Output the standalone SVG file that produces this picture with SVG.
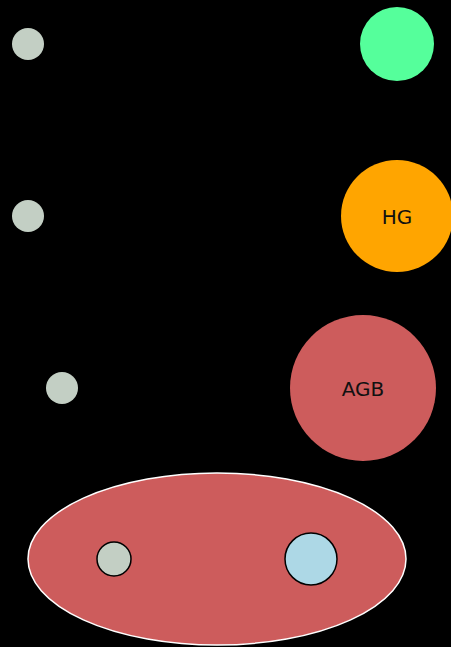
<svg xmlns="http://www.w3.org/2000/svg" width="451" height="647" viewBox="0 0 451 647">
<style>
.small{fill:#c3cfc4;}
.lbl{font-family:"DejaVu Sans",sans-serif;font-size:20px;fill:#111;text-anchor:middle;dominant-baseline:central;}
</style>
<rect x="0" y="0" width="451" height="647" fill="#000"/>
<g id="connectors"></g>
<g id="n1"><circle class="small" cx="28" cy="44" r="16"/></g>
<g id="n2"><circle cx="397" cy="44" r="37" fill="#55ff9b"/></g>
<g id="n3"><circle class="small" cx="28" cy="216" r="16"/></g>
<g id="HG"><circle cx="397" cy="216" r="56" fill="#ffa500"/><text class="lbl" x="397" y="217">HG</text></g>
<g id="n5"><circle class="small" cx="62" cy="388" r="16"/></g>
<g id="AGB"><circle cx="363" cy="388" r="73" fill="#cd5c5c"/><text class="lbl" x="363" y="389">AGB</text></g>
<g id="cluster">
<ellipse cx="217" cy="559" rx="189" ry="86" fill="#cd5c5c" stroke="#fff" stroke-width="1.5"/>
<g id="n7"><circle cx="114" cy="559" r="17" fill="#c3cfc4" stroke="#000" stroke-width="1.5"/></g>
<g id="n8"><circle cx="311" cy="559" r="26" fill="#add8e6" stroke="#000" stroke-width="1.5"/></g>
</g>
</svg>
